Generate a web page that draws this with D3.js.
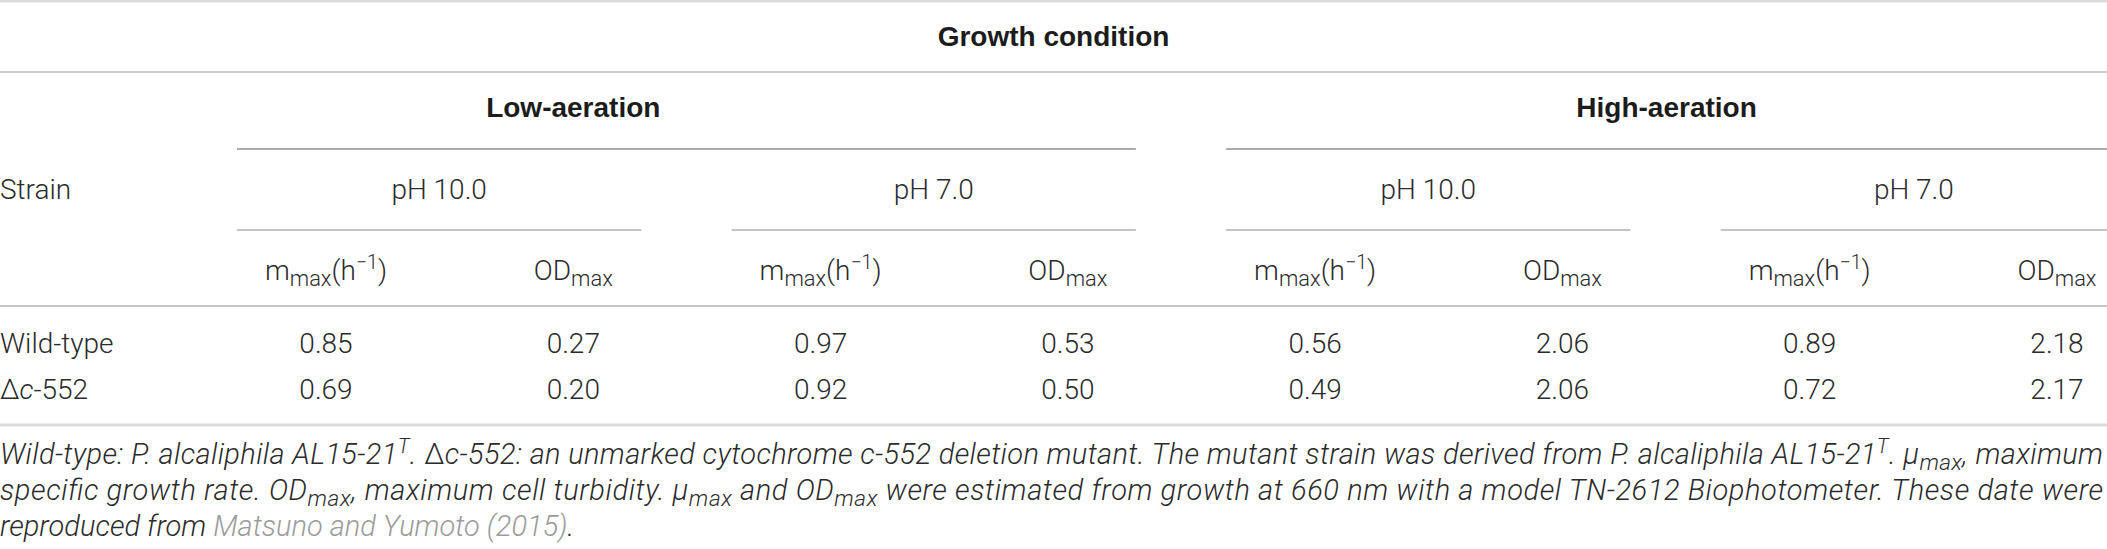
<!DOCTYPE html>
<html lang="en">
<head>
<meta charset="UTF-8">
<title>Growth condition</title>
<script src="https://cdn.jsdelivr.net/npm/d3@7"></script>
<style>
  body { margin: 0; background: #fff; }
  .tabela text { font-family: Roboto, "Liberation Sans", Arial, sans-serif; font-weight: 300; font-size: 28px; fill: #2b2b2b; white-space: pre; }
  .tabela text.bold { font-family: "Liberation Sans", Arial, sans-serif; font-weight: bold; font-size: 28px; fill: #1c1c1c; }
  .tabela text.legenda { font-style: italic; font-size: 29px; }
</style>
</head>
<body>
<div id="chart"></div>
<script>
"use strict"

// dados da tabela
var aeracoes = ["Low-aeration", "High-aeration"];
var phs = ["pH 10.0", "pH 7.0"];
var linhagens = ["Wild-type", "Δc-552"];
// colunas: low pH10, low pH7, high pH10, high pH7
var muMax = [[0.85, 0.97, 0.56, 0.89], [0.69, 0.92, 0.49, 0.72]];
var odMax = [[0.27, 0.53, 2.06, 2.18], [0.20, 0.50, 2.06, 2.17]];

var W = 2107, H = 549;

var svg = d3.select("#chart").append("svg")
    .attr("class", "tabela")
    .attr("width", W)
    .attr("height", H);

// texto com sub/sobrescrito
function rico(sel, partes, italico) {
  var desloc = 0;
  partes.forEach(function(p) {
    var k = (p[1] || "").split(" ");
    var alvo = k.indexOf("sub") >= 0 ? 6 : (k.indexOf("sup") >= 0 ? -11 : 0);
    var ts = sel.append("tspan").text(p[0]).attr("dy", alvo - desloc);
    desloc = alvo;
    if (alvo != 0) ts.style("font-size", k.indexOf("sub") >= 0 ? "0.78em" : "0.7em");
    var it = (italico || k.indexOf("it") >= 0) && k.indexOf("up") < 0;
    ts.style("font-style", it ? "italic" : "normal");
    if (k.indexOf("link") >= 0) ts.style("fill", "#9b9b9b");
  });
  return sel;
}

// colunas (pares mu/OD para cada condição)
var colunas = [];
aeracoes.forEach(function(a) { phs.forEach(function(p) { colunas.push(a + "|" + p + "|mu"); colunas.push(a + "|" + p + "|od"); }); });
var x = d3.scalePoint().domain(colunas).range([326, 2057]);

var y = d3.scalePoint().domain(linhagens).range([353, 399]);

function regra(y0, x0, x1, cor, esp) {
  svg.append("line").attr("x1", x0).attr("x2", x1).attr("y1", y0).attr("y2", y0)
    .attr("stroke", cor).attr("stroke-width", esp);
}

// bordas
regra(1, 0, W, "#dcdcdc", 3);
regra(425, 0, W, "#dcdcdc", 3);
regra(72, 0, W, "#bdbdbd", 1.5);
regra(306, 0, W, "#b5b5b5", 1.5);

// cabeçalho principal
svg.append("text").attr("class", "bold").attr("x", W / 2).attr("y", 46)
  .attr("text-anchor", "middle").text("Growth condition");

// aeração
aeracoes.forEach(function(a, i) {
  var x0 = x(a + "|" + phs[0] + "|mu") - 89;
  var x1 = Math.min(x(a + "|" + phs[1] + "|od") + 68, W);
  regra(149, x0, x1, "#ababab", 2);
  var cx = i == 0 ? x(a + "|" + phs[0] + "|od") : (x0 + x1) / 2;
  svg.append("text").attr("class", "bold").attr("x", cx).attr("y", 117)
    .attr("text-anchor", "middle").text(a);

  phs.forEach(function(p) {
    var p0 = x(a + "|" + p + "|mu") - 89;
    var p1 = Math.min(x(a + "|" + p + "|od") + 68, W);
    regra(230, p0, p1, "#b0b0b0", 1.5);
    svg.append("text").attr("x", (p0 + p1) / 2).attr("y", 199)
      .attr("text-anchor", "middle").text(p);
    rico(svg.append("text").attr("x", x(a + "|" + p + "|mu")).attr("y", 280).attr("text-anchor", "middle"),
      [["m"], ["max", "sub"], ["(h"], ["\u22121", "sup"], [")"]]);
    rico(svg.append("text").attr("x", x(a + "|" + p + "|od")).attr("y", 280).attr("text-anchor", "middle"),
      [["OD"], ["max", "sub"]]);
  });
});

svg.append("text").attr("x", 0).attr("y", 199).text("Strain");

// linhas de dados
var fmt = d3.format(".2f");
linhagens.forEach(function(l, li) {
  var t = svg.append("text").attr("x", 0).attr("y", y(l));
  if (li == 0) t.text(l);
  else rico(t, [["Δ"], ["c", "it"], ["-552"]]);

  var k = 0;
  aeracoes.forEach(function(a) {
    phs.forEach(function(p) {
      svg.append("text").attr("x", x(a + "|" + p + "|mu")).attr("y", y(l))
        .attr("text-anchor", "middle").text(fmt(muMax[li][k]));
      svg.append("text").attr("x", x(a + "|" + p + "|od")).attr("y", y(l))
        .attr("text-anchor", "middle").text(fmt(odMax[li][k]));
      k++;
    });
  });
});

// legenda
var legenda = [
  [["Wild-type: P. alcaliphila AL15-21"], ["T", "sup"], [". "], ["Δ", "up"],
   ["c-552: an unmarked cytochrome c-552 deletion mutant. The mutant strain was derived from P. alcaliphila AL15-21"],
   ["T", "sup"], [". μ"], ["max", "sub"], [", maximum"]],
  [["specific growth rate. OD"], ["max", "sub"], [", maximum cell turbidity. μ"], ["max", "sub"], [" and OD"], ["max", "sub"],
   [" were estimated from growth at 660 nm with a model TN-2612 Biophotometer. These date were"]],
  [["reproduced from "], ["Matsuno and Yumoto (2015)", "link"], ["."]]
];
var yLeg = d3.scalePoint().domain(d3.range(legenda.length)).range([464, 536]);
legenda.forEach(function(partes, i) {
  var t = svg.append("text").attr("class", "legenda").attr("x", 0).attr("y", yLeg(i));
  rico(t, partes, true);
  if (i < legenda.length - 1) t.attr("textLength", 2103).attr("lengthAdjust", "spacing");
});
</script>
</body>
</html>
